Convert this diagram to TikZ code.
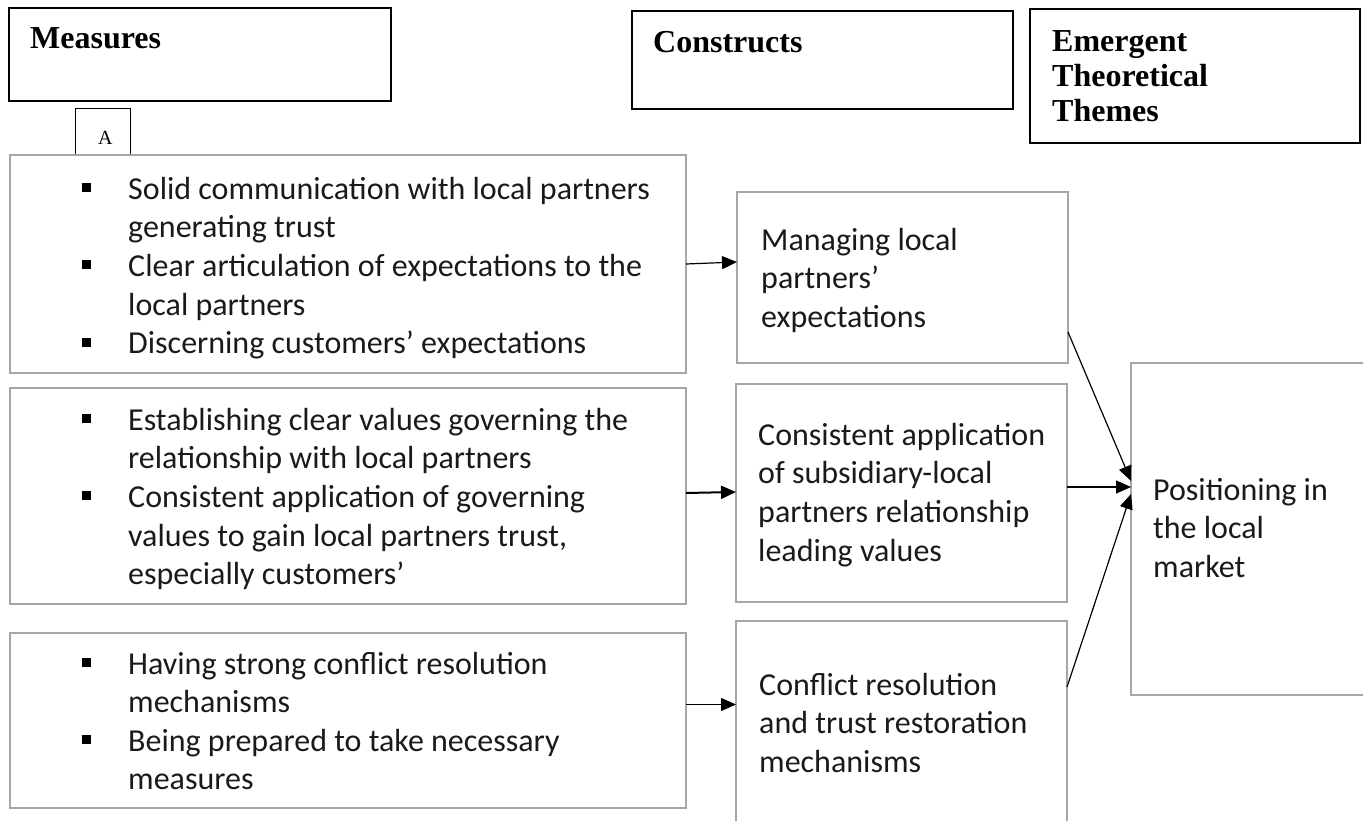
\documentclass[tikz,border=0pt]{standalone}
\usepackage{fontspec}
\setmainfont{Carlito}
\newfontfamily\headfont{Liberation Serif}
\usetikzlibrary{arrows.meta}
\definecolor{boxgray}{HTML}{A6A6A6}
\definecolor{textc}{HTML}{1A1A1A}
\begin{document}
% multi-line nodes are placed by the baseline of their last line
\begin{tikzpicture}[x=1pt,y=-1pt,
  box/.style={draw=boxgray, line width=2pt, anchor=north west, inner sep=0pt, outer sep=0pt},
  headbox/.style={draw=black, line width=2.4pt, anchor=north west, inner sep=0pt, outer sep=0pt},
  body/.style={anchor=base west, inner sep=0pt, align=left, text=textc,
    font=\fontsize{32}{38.7}\selectfont},
  head/.style={anchor=base west, inner sep=0pt, align=left,
    font=\headfont\bfseries\fontsize{32}{35}\selectfont},
  arr/.style={-{Triangle[length=15pt,width=13pt]}, line width=1.2pt},
]
\useasboundingbox (0,0) rectangle (1363,821);
\clip (0,0) rectangle (1363,821);

% column headers
\node[headbox, minimum width=382pt, minimum height=93pt] (hM) at (9,8) {};
\node[head] (tM) at (30,49) {Measures};
\node[headbox, minimum width=381pt, minimum height=98pt] (hC) at (632,11) {};
\node[head] (tC) at (653,53) {Constructs};
\node[headbox, minimum width=330pt, minimum height=134pt] (hE) at (1030,9) {};
\node[head] (tE) at (1052,122) {Emergent\\Theoretical\\Themes};

% small label box
\node[draw=black, line width=1pt, anchor=north west, minimum width=55pt, minimum height=47pt,
      inner sep=0pt] (boxA) at (75,108) {};
\node[anchor=base west, inner sep=0pt, font=\headfont\fontsize{20}{22}\selectfont] (tA) at (98,145) {A};

% measures
\node[box, minimum width=676pt, minimum height=218pt] (b1) at (10,155) {};
\node[box, minimum width=676pt, minimum height=216pt] (b2) at (10,388) {};
\node[box, minimum width=676pt, minimum height=175pt] (b3) at (10,633) {};

\node[body] (m11) at (128,237.7) {Solid communication with local partners\\generating trust};
\node[body] (m12) at (128,315.1) {Clear articulation of expectations to the\\local partners};
\node[body] (m13) at (128,353.8) {Discerning customers’ expectations};
\foreach \yb in {199,276.4,353.8} \fill (82,\yb-16) rectangle ++(9,9);

\node[body] (m21) at (128,468.7) {Establishing clear values governing the\\relationship with local partners};
\node[body] (m22) at (128,584.8) {Consistent application of governing\\values to gain local partners trust,\\especially customers’};
\foreach \yb in {430,507.4} \fill (82,\yb-16) rectangle ++(9,9);

\node[body] (m31) at (128,712.7) {Having strong conflict resolution\\mechanisms};
\node[body] (m32) at (128,789.7) {Being prepared to take necessary\\measures};
\foreach \yb in {674,751} \fill (82,\yb-16) rectangle ++(9,9);

% constructs
\node[box, minimum width=331pt, minimum height=171pt] (c1) at (737,192) {};
\node[box, minimum width=331pt, minimum height=218pt] (c2) at (736,384) {};
\node[box, minimum width=331pt, minimum height=240pt] (c3) at (736,621) {};
\node[body] (tc1) at (761,327.4) {Managing local\\partners’\\expectations};
\node[body] (tc2) at (758,561.1) {Consistent application\\of subsidiary-local\\partners relationship\\leading values};
\node[body] (tc3) at (759,772.4) {Conflict resolution\\and trust restoration\\mechanisms};

% theme
\node[box, minimum width=260pt, minimum height=332pt] (p) at (1131,363) {};
\node[body] (tp) at (1153,577.4) {Positioning in\\the local\\market};

% connectors
\draw[arr] (b1.east) -- ([yshift=15.5pt]c1.west);
\draw[arr, line width=2pt] ([yshift=3pt]b2.east) -- ([yshift=1pt]c2.west);
\draw[arr] ([yshift=16pt]b3.east) coordinate (a3) -- (c3.west |- a3);
\draw[arr] ([yshift=31pt]c1.south east) -- ([yshift=48pt]p.west);
\draw[arr] ([yshift=6pt]c2.east) -- ([yshift=42pt]p.west);
\draw[arr] ([yshift=-66pt]c3.north east) -- ([yshift=35pt]p.west);
\end{tikzpicture}
\end{document}
